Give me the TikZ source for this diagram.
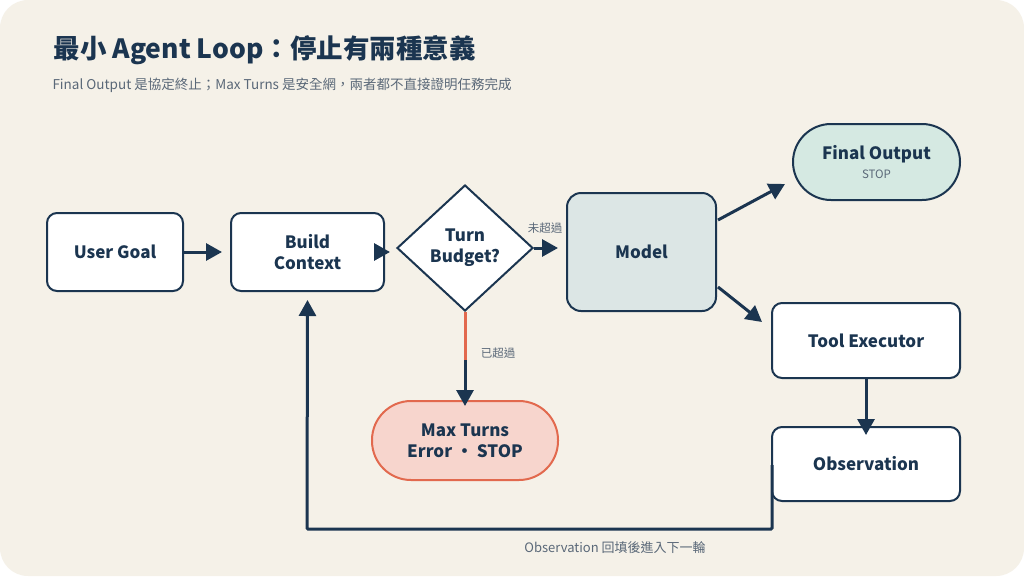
\documentclass[tikz,border=0pt]{standalone}
\usepackage{fontspec}
\setmainfont{Noto Sans CJK TC}
\usetikzlibrary{shapes.geometric,arrows.meta}
\definecolor{navy}{HTML}{1B3550}
\definecolor{bg}{HTML}{F5F1E8}
\definecolor{gr}{HTML}{5A6878}
\definecolor{orng}{HTML}{E2694E}
\definecolor{mfill}{HTML}{DCE6E5}
\definecolor{ffill}{HTML}{D5E9E2}
\begin{document}
\begin{tikzpicture}[x=1pt,y=-1pt,
 box/.style={draw=navy,line width=2pt,rounded corners=10pt,fill=white,align=center,font=\fontsize{17}{21}\selectfont\bfseries,text=navy},
 arr/.style={navy,line width=3pt,-{Triangle[length=16pt,width=17pt]}},
 lab/.style={font=\fontsize{11.5}{13}\selectfont,text=gr}]
\useasboundingbox (0,0) rectangle (1024,576);
\fill[white] (0,0) rectangle (1024,576);
\fill[bg,rounded corners=28pt] (0,0) rectangle (1024,576);
\node[anchor=west,text=navy,font=\fontsize{26.5}{30}\selectfont\bfseries] (t) at (50,50) {最小 Agent Loop：停止有兩種意義};
\node[anchor=west,lab,font=\fontsize{13.5}{15}\selectfont] (st) at (49,85) {Final Output 是協定終止；Max Turns 是安全網，兩者都不直接證明任務完成};
\node[box,minimum width=136pt,minimum height=78pt] (ug) at (115,252) {User Goal};
\node[box,minimum width=153pt,minimum height=78pt] (bc) at (307.5,252) {Build\\Context};
\node[draw=navy,line width=2pt,diamond,fill=white,minimum width=136pt,minimum height=126pt,inner sep=0pt,align=center,font=\fontsize{17}{21}\selectfont\bfseries,text=navy] (tb) at (465,248) {Turn\\Budget?};
\node[box,fill=mfill,minimum width=149pt,minimum height=118pt,rounded corners=14pt] (m) at (641.5,252) {Model};
\node[box,fill=ffill,rounded corners=38pt,minimum width=167pt,minimum height=76pt] (fo) at (876.5,162) {Final Output\\[-2pt]{\fontsize{11.5}{13}\selectfont\mdseries\color{gr}STOP}};
\node[box,minimum width=188pt,minimum height=75pt] (te) at (866,340.5) {Tool Executor};
\node[box,minimum width=188pt,minimum height=74pt] (ob) at (866,464) {Observation};
\node[box,draw=orng,fill=orng!28!white,rounded corners=39pt,minimum width=186pt,minimum height=79pt] (mt) at (465,440.5) {Max Turns\\Error ・ STOP};
\draw[arr] (ug.east) -- ([xshift=-8pt]bc.west);
\draw[arr] (bc.east) -- ([xshift=-6pt]bc.east-|tb.west);
\draw[arr] (tb.east) -- ([xshift=-8pt]tb.east-|m.west);
\node[lab] (l1) at (545,228) {未超過};
\draw[orng,line width=3pt] (tb.south) -- (465,362);
\draw[arr] (465,360) -- ([yshift=-6pt]mt.north);
\node[lab] (l2) at (498,353) {已超過};
\draw[arr] (718,220) -- (785,184);
\draw[arr] (718,287) -- (762,322);
\draw[arr] (te.south) -- ([yshift=-9pt]ob.north);
\coordinate (c1) at (772,529);
\coordinate (c2) at (307,529);
\draw[arr,rounded corners=1pt] (772,465) -- (c1) -- (c2) -- ([yshift=-8pt]bc.south);
\node[lab,font=\fontsize{13}{14}\selectfont] (l3) at (615,548) {Observation 回填後進入下一輪};
\end{tikzpicture}
\end{document}
